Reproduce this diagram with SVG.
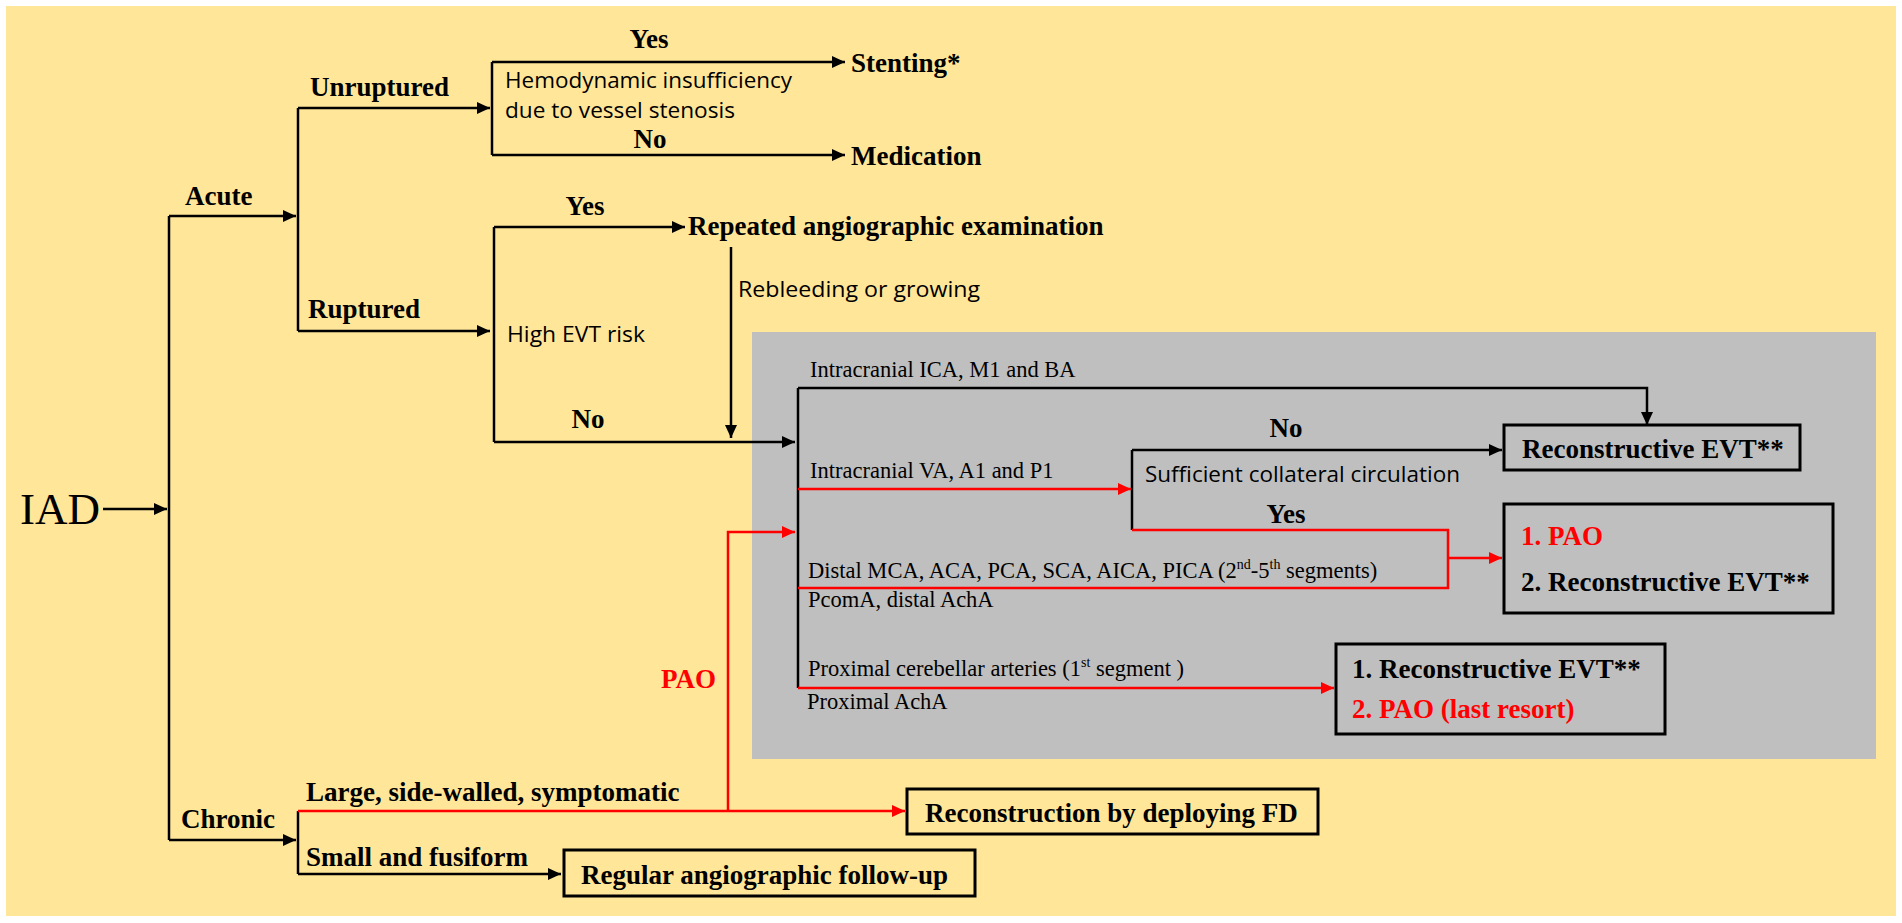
<svg xmlns="http://www.w3.org/2000/svg" width="1902" height="923" viewBox="0 0 1902 923">
<style>
.b{font-family:"Liberation Serif","Times New Roman",serif;font-weight:bold;font-size:27px;fill:#000}
.r{fill:#ff0000}
.s{font-family:"Open Sans","Noto Sans",sans-serif;font-size:22.5px;fill:#000}
.t{font-family:"Liberation Serif","Times New Roman",serif;font-size:22.5px;fill:#000}
.k{fill:none;stroke:#000;stroke-width:2.5}
.kr{fill:none;stroke:#ff0000;stroke-width:2.5}
.box{fill:none;stroke:#000;stroke-width:3}
</style>
<defs>
<marker id="ab" markerUnits="userSpaceOnUse" markerWidth="14" markerHeight="12" refX="13" refY="6" orient="auto"><path d="M0,0 L13,6 L0,12 Z" fill="#000"/></marker>
<marker id="ar" markerUnits="userSpaceOnUse" markerWidth="14" markerHeight="12" refX="13" refY="6" orient="auto"><path d="M0,0 L13,6 L0,12 Z" fill="#ff0000"/></marker>
</defs>
<rect x="0" y="0" width="1902" height="923" fill="#fff"/>
<rect x="6" y="6" width="1890" height="910" fill="#ffe699"/>
<rect x="752" y="332" width="1124" height="427" fill="#bfbfbf"/>

<g id="connectors">
<path class="k" d="M103,509 H167" marker-end="url(#ab)"/>
<path class="k" d="M169,216 V840"/>
<path class="k" d="M169,216 H296" marker-end="url(#ab)"/>
<path class="k" d="M169,840 H296" marker-end="url(#ab)"/>
<path class="k" d="M298,108 V331"/>
<path class="k" d="M298,108 H490" marker-end="url(#ab)"/>
<path class="k" d="M298,331 H490" marker-end="url(#ab)"/>
<path class="k" d="M492,62 V155"/>
<path class="k" d="M492,62 H845" marker-end="url(#ab)"/>
<path class="k" d="M492,155 H845" marker-end="url(#ab)"/>
<path class="k" d="M494,227 V442"/>
<path class="k" d="M494,227 H685" marker-end="url(#ab)"/>
<path class="k" d="M494,442 H795" marker-end="url(#ab)"/>
<path class="k" d="M731,247 V438" marker-end="url(#ab)"/>
<path class="k" d="M798,388 V688"/>
<path class="k" d="M798,388 H1647 V425" marker-end="url(#ab)"/>
<path class="k" d="M1132,450 V530"/>
<path class="k" d="M1132,450 H1502" marker-end="url(#ab)"/>
<path class="k" d="M298,811 V874"/>
<path class="k" d="M298,874 H561" marker-end="url(#ab)"/>
<path class="kr" d="M798,489 H1131" marker-end="url(#ar)"/>
<path class="kr" d="M1132,530 H1448 V588 H798"/>
<path class="kr" d="M1448,558 H1502" marker-end="url(#ar)"/>
<path class="kr" d="M798,688 H1334" marker-end="url(#ar)"/>
<path class="kr" d="M298,811 H905" marker-end="url(#ar)"/>
<path class="kr" d="M728,811 V532 H795" marker-end="url(#ar)"/>
</g>

<g id="IAD"><text x="20" y="524" font-family="Liberation Serif, Times New Roman, serif" font-size="45">IAD</text></g>
<g id="acute"><text class="b" x="185" y="205">Acute</text></g>
<g id="chronic"><text class="b" x="181" y="828">Chronic</text></g>
<g id="unruptured"><text class="b" x="310" y="96">Unruptured</text></g>
<g id="ruptured"><text class="b" x="308" y="318">Ruptured</text></g>
<g id="hemodynamic">
<text class="s" x="505" y="88" textLength="287" lengthAdjust="spacingAndGlyphs">Hemodynamic insufficiency</text>
<text class="s" x="505" y="118" textLength="230" lengthAdjust="spacingAndGlyphs">due to vessel stenosis</text>
<text class="b" x="649" y="48" text-anchor="middle">Yes</text>
<text class="b" x="650" y="148" text-anchor="middle">No</text>
</g>
<g id="stenting"><text class="b" x="851" y="72">Stenting*</text></g>
<g id="medication"><text class="b" x="851" y="165">Medication</text></g>
<g id="high-evt-risk">
<text class="s" x="507" y="342" textLength="138" lengthAdjust="spacingAndGlyphs">High EVT risk</text>
<text class="b" x="585" y="215" text-anchor="middle">Yes</text>
<text class="b" x="588" y="428" text-anchor="middle">No</text>
</g>
<g id="repeated"><text class="b" x="688" y="235">Repeated angiographic examination</text></g>
<g id="rebleeding"><text class="s" x="738" y="297" textLength="242" lengthAdjust="spacingAndGlyphs">Rebleeding or growing</text></g>
<g id="locations">
<text class="t" x="810" y="377">Intracranial ICA, M1 and BA</text>
<text class="t" x="810" y="478">Intracranial VA, A1 and P1</text>
<text class="t" x="808" y="578">Distal MCA, ACA, PCA, SCA, AICA, PICA (2<tspan font-size="14" dy="-9">nd</tspan><tspan dy="9">-5</tspan><tspan font-size="14" dy="-9">th</tspan><tspan dy="9"> segments)</tspan></text>
<text class="t" x="808" y="607">PcomA, distal AchA</text>
<text class="t" x="808" y="676">Proximal cerebellar arteries (1<tspan font-size="14" dy="-9">st</tspan><tspan dy="9"> segment )</tspan></text>
<text class="t" x="807" y="709">Proximal AchA</text>
</g>
<g id="collateral">
<text class="s" x="1145" y="482" textLength="315" lengthAdjust="spacingAndGlyphs">Sufficient collateral circulation</text>
<text class="b" x="1286" y="437" text-anchor="middle">No</text>
<text class="b" x="1286" y="523" text-anchor="middle">Yes</text>
</g>
<g id="box-recon"><rect class="box" x="1504" y="425" width="296" height="45"/><text class="b" x="1522" y="458">Reconstructive EVT**</text></g>
<g id="box-pao-recon"><rect class="box" x="1504" y="504" width="329" height="109"/><text class="b r" x="1521" y="545">1. PAO</text><text class="b" x="1521" y="591">2. Reconstructive EVT**</text></g>
<g id="box-recon-pao"><rect class="box" x="1336" y="644" width="329" height="90"/><text class="b" x="1352" y="678">1. Reconstructive EVT**</text><text class="b r" x="1352" y="718">2. PAO (last resort)</text></g>
<g id="pao-label"><text class="b r" x="661" y="688">PAO</text></g>
<g id="large"><text class="b" x="306" y="801">Large, side-walled, symptomatic</text></g>
<g id="small"><text class="b" x="306" y="866">Small and fusiform</text></g>
<g id="box-fd"><rect class="box" x="907" y="789" width="411" height="45"/><text class="b" x="925" y="822">Reconstruction by deploying FD</text></g>
<g id="box-followup"><rect class="box" x="564" y="850" width="411" height="46"/><text class="b" x="581" y="884">Regular angiographic follow-up</text></g>
</svg>
